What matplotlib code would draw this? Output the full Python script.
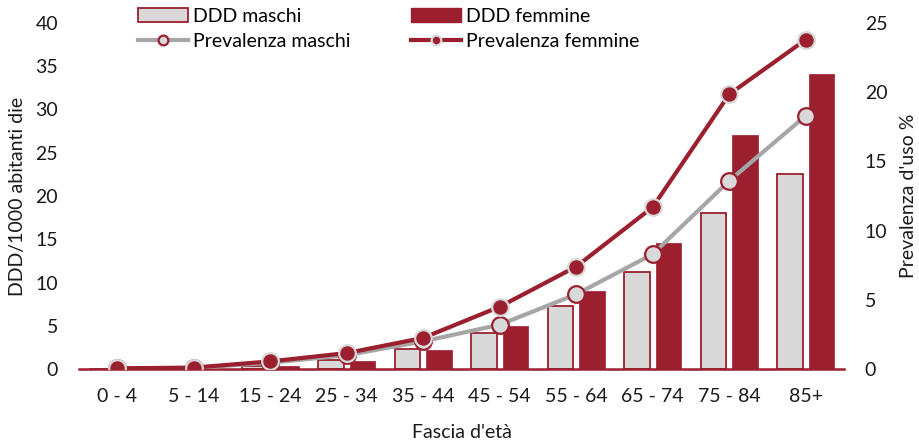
import matplotlib
matplotlib.use("Agg")
import matplotlib.pyplot as plt
import numpy as np
from matplotlib.lines import Line2D
from matplotlib.patches import Patch

plt.rcParams['font.family'] = ['Lato', 'DejaVu Sans']

categories = ["0 - 4", "5 - 14", "15 - 24", "25 - 34", "35 - 44",
              "45 - 54", "55 - 64", "65 - 74", "75 - 84", "85+"]
ddd_maschi = [0.02, 0.05, 0.3, 1.0, 2.3, 4.2, 7.3, 11.2, 18.0, 22.5]
ddd_femmine = [0.02, 0.05, 0.3, 0.9, 2.2, 5.0, 9.0, 14.6, 27.0, 34.1]
prev_maschi = [0.05, 0.08, 0.45, 1.0, 2.0, 3.2, 5.4, 8.3, 13.6, 18.3]
prev_femmine = [0.05, 0.1, 0.55, 1.15, 2.25, 4.5, 7.4, 11.7, 19.85, 23.8]

RED = "#9B1F2E"
LGRAY = "#D9D9D9"
MGRAY = "#A6A6A6"
TXT = "#1a1a1a"
FS = 14

fig = plt.figure(figsize=(9.2, 4.44), dpi=100)
ax = fig.add_axes([79 / 920, 1 - 369 / 444, (844 - 79) / 920, (369 - 23) / 444])
ax2 = ax.twinx()

x = np.arange(len(categories))
w = 0.33
off = 0.205
ax.bar(x - off, ddd_maschi, w, color=LGRAY, edgecolor=RED, linewidth=1.3, zorder=2)
ax.bar(x + off, ddd_femmine, w, color=RED, edgecolor=RED, linewidth=0.5, zorder=2)

ax2.plot(x, prev_maschi, color=MGRAY, lw=3.0, marker='o', ms=12,
         mfc=LGRAY, mec=RED, mew=1.6, zorder=3, solid_capstyle='butt')
ax2.plot(x, prev_femmine, color=RED, lw=3.0, marker='o', ms=12,
         mfc=RED, mec=LGRAY, mew=1.6, zorder=4, solid_capstyle='butt')

ax.set_xlim(-0.5, len(categories) - 0.5)
ax.set_ylim(0, 40)
ax2.set_ylim(0, 25)
ax.set_yticks(np.arange(0, 41, 5))
ax2.set_yticks(np.arange(0, 26, 5))
ax.set_xticks(x)
ax.set_xticklabels(categories)

for a in (ax, ax2):
    for s in a.spines.values():
        s.set_visible(False)
ax.spines['bottom'].set_visible(True)
ax.spines['bottom'].set_color(RED)
ax.spines['bottom'].set_linewidth(1.8)

ax.tick_params(axis='y', length=0, pad=15, labelsize=FS, labelcolor=TXT)
ax2.tick_params(axis='y', length=0, pad=15, labelsize=FS, labelcolor=TXT)
ax.tick_params(axis='x', length=0, pad=14, labelsize=FS, labelcolor=TXT)

ax.set_ylabel("DDD/1000 abitanti die", fontsize=FS, color=TXT, labelpad=7)
ax2.set_ylabel("Prevalenza d'uso %", fontsize=FS, color=TXT, labelpad=9)
ax.set_xlabel("Fascia d'età", fontsize=FS, color=TXT, labelpad=13)

handles = [
    Patch(facecolor=LGRAY, edgecolor=RED, linewidth=1.3),
    Line2D([], [], color=MGRAY, lw=3.0, marker='o', ms=7, mfc=LGRAY, mec=RED, mew=1.6),
    Patch(facecolor=RED, edgecolor=RED),
    Line2D([], [], color=RED, lw=3.0, marker='o', ms=7, mfc=RED, mec=LGRAY, mew=1.6),
]
labels = ["DDD maschi", "Prevalenza maschi", "DDD femmine", "Prevalenza femmine"]
fig.legend(handles, labels, ncol=2, loc='upper left', bbox_to_anchor=(130 / 920, 1.0),
           frameon=False, fontsize=FS, handlelength=2.57, handleheight=0.75,
           handletextpad=0.26, columnspacing=3.1, labelspacing=0.42, borderaxespad=0)

fig.savefig("out.png", dpi=100)
